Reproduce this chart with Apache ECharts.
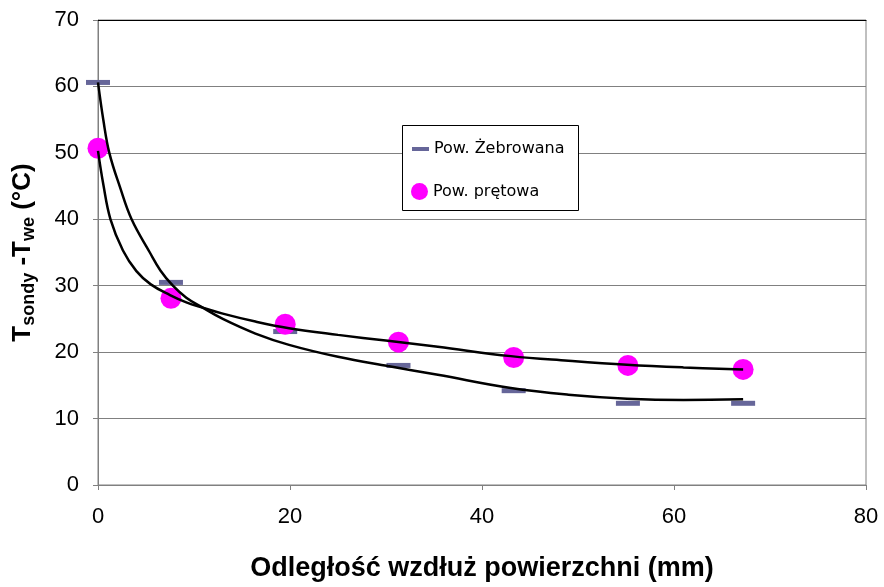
<!DOCTYPE html>
<html>
<head>
<meta charset="utf-8">
<script src="https://cdn.jsdelivr.net/npm/echarts@6/dist/echarts.min.js"></script>
<style>
  html, body { margin: 0; padding: 0; background: #fff; overflow: hidden; }
  #chart { width: 884px; height: 587px; }
</style>
</head>
<body>
<div id="chart"></div>
<script>
// Measurement positions along the surface (mm)
const distance = [0, 7.6, 19.5, 31.3, 43.3, 55.2, 67.2];
// Probe minus inlet temperature (°C) for each surface type
const zebrowana = [60.6, 30.5, 23.1, 18.0, 14.2, 12.3, 12.3];
const pretowa = [50.7, 28.1, 24.2, 21.5, 19.2, 18.0, 17.4];

// Trend curves through each series
const zebTrendX = [0, 0.56, 1.18, 2.3, 3.5, 5.4, 6.5, 7.8, 9.2, 10.9, 13.0, 16.4, 19.9, 25, 30.2, 35.4, 43, 49, 55.1, 61, 67.2];
const zebTrendY = [60.6, 54.9, 50, 44.8, 40, 35.0, 32.3, 30, 28.2, 26.7, 25.0, 22.8, 21.1, 19.3, 17.9, 16.6, 14.6, 13.6, 13.0, 12.8, 12.9];
const pretTrendX = [0, 0.56, 1.3, 2.6, 4.0, 5.5, 7.5, 9.2, 10.9, 13.0, 16.4, 19.9, 25, 30.2, 35.4, 43, 49, 55.1, 61, 67.2];
const pretTrendY = [50.3, 45.2, 40, 35.3, 32.2, 30.2, 28.6, 27.5, 26.7, 25.8, 24.6, 23.6, 22.6, 21.7, 20.8, 19.4, 18.7, 18.1, 17.7, 17.4];

const seriesNames = ['Pow. Żebrowana', 'Pow. prętowa'];
const xTitle = 'Odległość wzdłuż powierzchni (mm)';

const zip = (xs, ys) => xs.map((x, i) => [x, ys[i]]);

const axisFont = "'Liberation Sans', Arial, sans-serif";
const legendFont = "'DejaVu Sans', sans-serif";
const grey = '#808080';

const chart = echarts.init(document.getElementById('chart'), null, { renderer: 'canvas' });

chart.setOption({
  animation: false,
  backgroundColor: '#ffffff',
  grid: {
    left: 98, right: 18, top: 20, bottom: 97,
    show: true, borderColor: grey, borderWidth: 1
  },
  xAxis: [{
    type: 'value', min: 0, max: 80, interval: 20,
    axisLine: { show: true, onZero: false, lineStyle: { color: grey, width: 1 } },
    axisTick: { show: true, length: 5, lineStyle: { color: grey } },
    splitLine: { show: false },
    axisLabel: { color: '#000', fontSize: 22, fontFamily: axisFont, margin: 21 },
    name: xTitle, nameLocation: 'middle', nameGap: 70,
    nameTextStyle: { color: '#000', fontSize: 27, fontWeight: 'bold', fontFamily: axisFont }
  }, {
    type: 'value', position: 'top', min: 0, max: 80,
    axisLine: { show: true, onZero: false, lineStyle: { color: '#000', width: 1 } },
    axisTick: { show: false }, axisLabel: { show: false }, splitLine: { show: false }
  }],
  yAxis: {
    type: 'value', min: 0, max: 70, interval: 10,
    axisLine: { show: true, lineStyle: { color: grey, width: 1 } },
    axisTick: { show: true, length: 5, lineStyle: { color: grey } },
    splitLine: { show: true, lineStyle: { color: grey, width: 1 } },
    axisLabel: { color: '#000', fontSize: 22, fontFamily: axisFont, margin: 19 },
    name: '{m|T}{s|sondy}{m| -T}{s|we}{m| (°C)}',
    nameLocation: 'middle', nameRotate: 90, nameGap: 60,
    nameTextStyle: {
      rich: {
        m: { fontSize: 26, fontWeight: 'bold', fontFamily: axisFont, color: '#000', lineHeight: 30, verticalAlign: 'middle' },
        s: { fontSize: 18, fontWeight: 'bold', fontFamily: axisFont, color: '#000', lineHeight: 30, verticalAlign: 'bottom' }
      }
    }
  },
  legend: [{
    data: [seriesNames[0]],
    left: 412, top: 141, padding: 0,
    icon: 'rect', itemWidth: 17, itemHeight: 4,
    textStyle: { fontSize: 16, fontFamily: legendFont, color: '#000' },
    selectedMode: false
  }, {
    data: [seriesNames[1]],
    left: 411, top: 183, padding: 0,
    icon: 'circle', itemWidth: 17, itemHeight: 17,
    textStyle: { fontSize: 16, fontFamily: legendFont, color: '#000' },
    selectedMode: false
  }],
  graphic: [{
    type: 'rect', left: 402, top: 125, z: 3,
    shape: { width: 176, height: 85 },
    style: { fill: '#fff', stroke: '#000', lineWidth: 1 }
  }],
  series: [
    {
      name: 'trend-zeb', type: 'line', data: zip(zebTrendX, zebTrendY),
      smooth: 0.4, showSymbol: false, symbol: 'none',
      lineStyle: { color: '#000', width: 2.5 }, z: 3, silent: true
    },
    {
      name: 'trend-pret', type: 'line', data: zip(pretTrendX, pretTrendY),
      smooth: 0.4, showSymbol: false, symbol: 'none',
      lineStyle: { color: '#000', width: 2.5 }, z: 3, silent: true
    },
    {
      name: seriesNames[0], type: 'scatter', data: zip(distance, zebrowana),
      symbol: 'rect', symbolSize: [24, 5],
      itemStyle: { color: '#666699', opacity: 1 }, z: 2
    },
    {
      name: seriesNames[1], type: 'scatter', data: zip(distance, pretowa),
      symbol: 'circle', symbolSize: 21,
      itemStyle: { color: '#ff00ff', opacity: 1 }, z: 2
    }
  ]
});
</script>
</body>
</html>
